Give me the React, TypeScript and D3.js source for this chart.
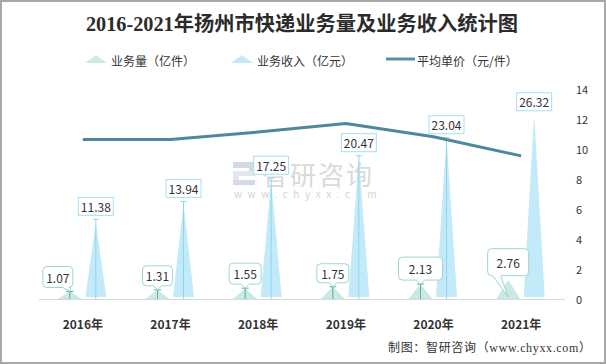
import React from 'react';
import * as d3 from 'd3';

const categories = ['2016年', '2017年', '2018年', '2019年', '2020年', '2021年'];
const volume = [1.07, 1.31, 1.55, 1.75, 2.13, 2.76];
const revenue = [11.38, 13.94, 17.25, 20.47, 23.04, 26.32];
const price = [10.64, 10.64, 11.13, 11.7, 10.82, 9.54];
const rightTicks = [0, 2, 4, 6, 8, 10, 12, 14];
const legendItems = ['业务量（亿件）', '业务收入（亿元）', '平均单价（元/件）'];

// style-only constants for the volume callout boxes
const volBoxW = [30, 30, 32, 32, 44, 41];
const volBoxH = [21, 20, 21, 19, 23, 27];
const volBoxDx = [-12, 0, 0, 0, 0, 0];

const W = 606;
const H = 364;
const SANS = "'Microsoft YaHei', 'Noto Sans CJK SC', 'Noto Sans', sans-serif";
const SERIF = "'Liberation Serif', 'DejaVu Serif', 'Noto Sans CJK SC', serif";

export default function App() {
  const x = d3.scaleBand<string>().domain(categories).range([39, 565]);
  const bw = x.bandwidth();
  const yL = d3.scaleLinear().domain([0, 30]).range([299, 89]);
  const yR = d3.scaleLinear().domain([0, 14]).range([299, 89]);
  const base = yL(0);
  const cx = (i: number) => (x(categories[i]) as number) + bw / 2;
  const vx = (i: number) => cx(i) - 13;
  const rx = (i: number) => cx(i) + 13;

  const line = d3
    .line<number>()
    .x((_, i) => cx(i))
    .y((d) => yR(d));

  const calloutPath = (i: number) => {
    const c = vx(i);
    const top = yL(volume[i]);
    const w = volBoxW[i];
    const h = volBoxH[i];
    const left = c + volBoxDx[i] - w / 2;
    const right = left + w;
    const bottom = top - 4;
    const btop = bottom - h;
    const r = 4;
    let tx = Math.max(left + 6, Math.min(right - 6, c));
    let tipX = c;
    let tipY = top;
    if (i === 5) {
      tx = left + 9;
      tipX = c;
      tipY = base - 2;
    }
    return {
      d: `M${left + r},${btop} H${right - r} Q${right},${btop} ${right},${btop + r} V${bottom - r} Q${right},${bottom} ${right - r},${bottom} H${tx + 4} L${tipX},${tipY} L${tx - 4},${bottom} H${left + r} Q${left},${bottom} ${left},${bottom - r} V${btop + r} Q${left},${btop} ${left + r},${btop} Z`,
      cx: (left + right) / 2,
      cy: (btop + bottom) / 2,
    };
  };

  return (
    <svg
      width={W}
      height={H}
      style={{ position: 'absolute', left: 0, top: 0, background: '#fff' }}
    >
      <rect x={1} y={1} width={W - 2} height={H - 2} fill="#fff" stroke="#a8a8a8" strokeWidth={2} />

      {/* title */}
      <text
        x={86}
        y={31}
        textLength={432}
        lengthAdjust="spacingAndGlyphs"
        fontFamily={SERIF}
        fontWeight="bold"
        fontSize={20}
        fill="#2b2b2b"
      >
        2016-2021年扬州市快递业务量及业务收入统计图
      </text>

      {/* legend */}
      <g fontFamily={SANS} fontSize={12} fill="#333">
        <path d="M85,63 L96,55 L107,63 Z" fill="#cde9e6" />
        <text x={111} y={60} dominantBaseline="central">{legendItems[0]}</text>
        <path d="M231,63 L242,55 L253,63 Z" fill="#c6e9f5" />
        <text x={257} y={60} dominantBaseline="central">{legendItems[1]}</text>
        <line x1={386} x2={415} y1={59} y2={59} stroke="#5a8fa3" strokeWidth={3} />
        <text x={417} y={60} dominantBaseline="central">{legendItems[2]}</text>
      </g>

      {/* watermark */}
      <g opacity={0.9}>
        <rect x={233} y={162} width={22} height={6} fill="#cfd6e4" />
        <rect x={249} y={162} width={6} height={12} fill="#cfd6e4" />
        <rect x={233} y={171} width={22} height={5} fill="#dfe4ee" />
        <rect x={233} y={171} width={6} height={14} fill="#dfe4ee" />
        <rect x={233} y={180} width={22} height={5} fill="#cfd6e4" />
        <text x={262} y={185} fontFamily={SANS} fontSize={26} fill="#d6d6d6" letterSpacing={2}>
          智研咨询
        </text>
        <text x={234} y={198} fontFamily={SANS} fontSize={10} fill="#cfcfcf" letterSpacing={5.6}>
          www.chyxx.com
        </text>
      </g>

      {/* x axis line */}
      <line x1={39} x2={565} y1={299.5} y2={299.5} stroke="#d9d9d9" strokeWidth={1} />

      {/* volume triangles */}
      {volume.map((v, i) => (
        <path
          key={'vt' + i}
          d={`M${vx(i) - 12},${base} L${vx(i)},${yL(v)} L${vx(i) + 12},${base} Z`}
          fill="#c9e9e4"
        />
      ))}

      {/* revenue spikes */}
      {revenue.map((v, i) => (
        <path
          key={'rt' + i}
          d={`M${rx(i) - 10.5},${base - 2} L${rx(i) - 0.4},${yL(v) + 6} L${rx(i) + 0.4},${yL(v) + 6} L${rx(i) + 10.5},${base - 2} Z`}
          fill="#c3eaf8"
        />
      ))}

      {/* revenue markers */}
      {revenue.map((v, i) =>
        i === 5 ? null : (
          <g key={'rm' + i} stroke="#8fd6ee" strokeWidth={1}>
            <line x1={rx(i)} x2={rx(i)} y1={yL(v)} y2={base} />
            <line x1={rx(i) - 3} x2={rx(i) + 3} y1={yL(v)} y2={yL(v)} />
          </g>
        )
      )}

      {/* volume markers */}
      {volume.map((v, i) =>
        i === 5 ? null : (
          <g key={'vm' + i} stroke="#58b0a3" strokeWidth={1}>
            <line x1={vx(i)} x2={vx(i)} y1={yL(v)} y2={base} />
            <line x1={vx(i) - 3.5} x2={vx(i) + 3.5} y1={yL(v)} y2={yL(v)} />
          </g>
        )
      )}

      {/* price line */}
      <path
        d={line(price) as string}
        fill="none"
        stroke="#4f879d"
        strokeWidth={3}
        strokeLinejoin="round"
      />

      {/* revenue labels */}
      {revenue.map((v, i) => {
        const top = yL(v);
        const bottom = top - 4;
        const h = 18;
        return (
          <g key={'rl' + i}>
            <rect
              x={rx(i) - 17.5}
              y={bottom - h}
              width={35}
              height={h}
              fill="#fff"
              stroke="#a6def1"
              strokeWidth={1}
            />
            <text
              x={rx(i)}
              y={bottom - h / 2}
              textAnchor="middle"
              dominantBaseline="central"
              fontFamily={SANS}
              fontSize={12}
              fill="#333"
            >
              {v.toFixed(2)}
            </text>
          </g>
        );
      })}

      {/* volume labels */}
      {volume.map((v, i) => {
        const c = calloutPath(i);
        return (
          <g key={'vl' + i}>
            <path d={c.d} fill="#fff" stroke="#9dd6cd" strokeWidth={1} />
            <text
              x={c.cx}
              y={c.cy}
              textAnchor="middle"
              dominantBaseline="central"
              fontFamily={SANS}
              fontSize={12}
              fill="#333"
            >
              {v.toFixed(2)}
            </text>
          </g>
        );
      })}

      {/* right axis labels */}
      {rightTicks.map((t) => (
        <text
          key={'rt' + t}
          x={576}
          y={yR(t)}
          dominantBaseline="central"
          fontFamily={SANS}
          fontSize={11}
          fill="#333"
        >
          {t}
        </text>
      ))}

      {/* category labels */}
      {categories.map((c) => (
        <text
          key={c}
          x={(x(c) as number) + bw / 2}
          y={323}
          textAnchor="middle"
          dominantBaseline="central"
          fontFamily={SANS}
          fontWeight="bold"
          fontSize={12}
          fill="#333"
        >
          {c}
        </text>
      ))}

      {/* source */}
      <text
        x={388}
        y={348}
        textLength={203}
        lengthAdjust="spacing"
        dominantBaseline="central"
        fontFamily={SERIF}
        fontSize={12}
        fill="#333"
      >
        制图：智研咨询（www.chyxx.com）
      </text>
    </svg>
  );
}
